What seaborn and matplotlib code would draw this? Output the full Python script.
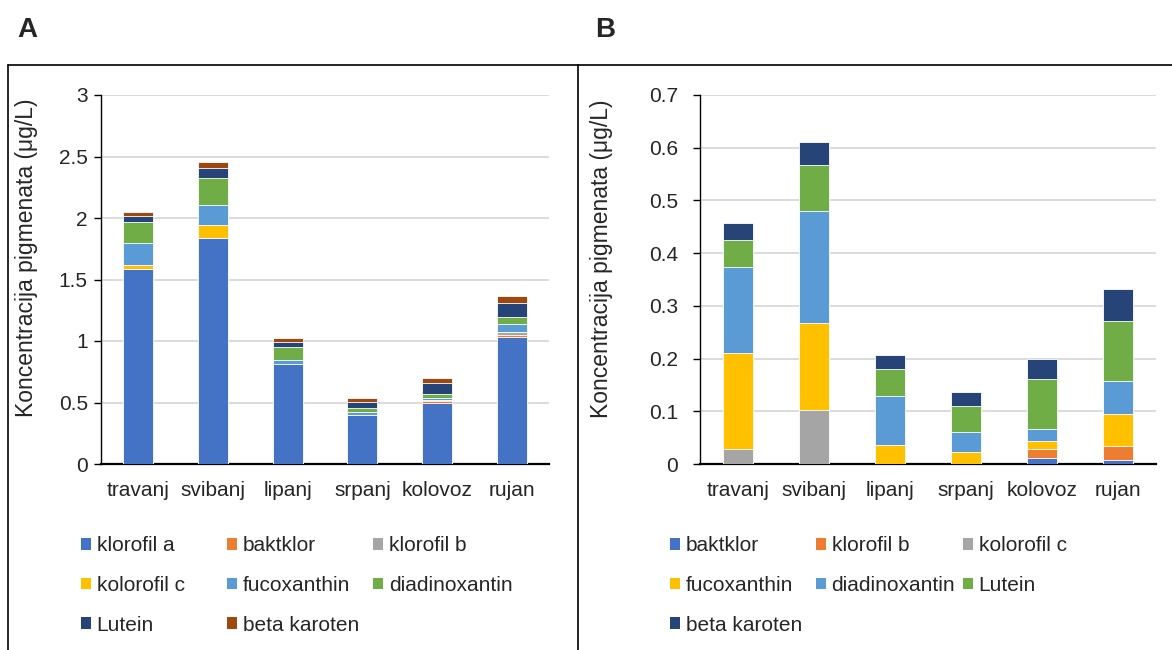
import numpy as np
import matplotlib
matplotlib.use("Agg")
import matplotlib.pyplot as plt
from matplotlib.patches import Patch
from matplotlib.lines import Line2D
import seaborn as sns

months = ['travanj', 'svibanj', 'lipanj', 'srpanj', 'kolovoz', 'rujan']

# Panel A
labels_A = ['klorofil a', 'baktklor', 'klorofil b', 'kolorofil c', 'fucoxanthin',
            'diadinoxantin', 'Lutein', 'beta karoten']
klorofil_a_A = [1.586, 1.841, 0.811, 0.395, 0.497, 1.032]
baktklor_A = [0.0, 0.0, 0.0, 0.0, 0.016, 0.014]
klorofil_b_A = [0.0, 0.0, 0.005, 0.0, 0.010, 0.024]
kolorofil_c_A = [0.030, 0.105, 0.0, 0.0, 0.0, 0.0]
fucoxanthin_A = [0.184, 0.162, 0.032, 0.024, 0.016, 0.065]
diadinoxantin_A = [0.165, 0.214, 0.100, 0.038, 0.027, 0.060]
lutein_A = [0.049, 0.084, 0.043, 0.046, 0.092, 0.113]
beta_karoten_A = [0.032, 0.046, 0.030, 0.030, 0.038, 0.060]
colors_A = ['#4472C4', '#ED7D31', '#A5A5A5', '#FFC000', '#5B9BD5', '#70AD47',
            '#264478', '#9E480E']

# Panel B
labels_B = ['baktklor', 'klorofil b', 'kolorofil c', 'fucoxanthin', 'diadinoxantin',
            'Lutein', 'beta karoten']
baktklor_B = [0.0, 0.0, 0.0, 0.0, 0.0114, 0.0076]
klorofil_b_B = [0.0, 0.0, 0.0, 0.0, 0.0170, 0.0260]
kolorofil_c_B = [0.0284, 0.1030, 0.0, 0.0, 0.0, 0.0]
fucoxanthin_B = [0.1830, 0.1636, 0.0366, 0.0234, 0.0146, 0.0619]
diadinoxantin_B = [0.1614, 0.2141, 0.0929, 0.0372, 0.0233, 0.0616]
lutein_B = [0.0530, 0.0859, 0.0512, 0.0494, 0.0942, 0.1146]
beta_karoten_B = [0.0310, 0.0434, 0.0265, 0.0270, 0.0391, 0.0594]
colors_B = ['#4472C4', '#ED7D31', '#A5A5A5', '#FFC000', '#5B9BD5', '#70AD47', '#264478']

series_A = [klorofil_a_A, baktklor_A, klorofil_b_A, kolorofil_c_A, fucoxanthin_A,
            diadinoxantin_A, lutein_A, beta_karoten_A]
series_B = [baktklor_B, klorofil_b_B, kolorofil_c_B, fucoxanthin_B, diadinoxantin_B,
            lutein_B, beta_karoten_B]

sns.set_theme(style="white")
plt.rcParams['font.family'] = ['Liberation Sans', 'DejaVu Sans']

W, H = 1172, 650
fig = plt.figure(figsize=(W / 100, H / 100), dpi=100)

FS = 15


def px_x(x):
    return x / W


def px_y(y):
    return 1 - y / H


def draw_panel(rect, series, colors, ymax, ystep, ytick_fmt, ypad):
    ax = fig.add_axes(rect)
    ax.set_axisbelow(True)
    cum = np.cumsum(np.array(series, dtype=float), axis=0)
    for i in reversed(range(len(series))):
        sns.barplot(x=months, y=cum[i], color=colors[i], saturation=1, width=0.4,
                    edgecolor='white', linewidth=0.6, ax=ax, zorder=3)
    ax.set_xlim(-0.5, 5.5)
    ax.set_ylim(0, ymax)
    yt = np.arange(0, ymax + ystep / 2, ystep)
    ax.set_yticks(yt)
    ax.set_yticklabels([ytick_fmt(v) for v in yt], fontsize=FS)
    ax.yaxis.grid(True, color='#D9D9D9', linewidth=1.3)
    ax.xaxis.grid(False)
    ax.set_xticks(range(len(months)))
    ax.set_xticklabels(months, fontsize=FS)
    ax.set_xticks(np.arange(-0.5, 6, 1), minor=True)
    ax.tick_params(axis='x', which='major', length=0, pad=12)
    ax.tick_params(axis='x', which='minor', length=5, width=1.2, color='black', direction='out')
    ax.tick_params(axis='y', length=5, width=1.0, color='black', direction='out', left=True, pad=ypad)
    for s in ['top', 'right']:
        ax.spines[s].set_visible(False)
    ax.spines['left'].set_color('black')
    ax.spines['left'].set_linewidth(1.0)
    ax.spines['bottom'].set_color('black')
    ax.spines['bottom'].set_linewidth(1.6)
    ax.set_xlabel('')
    ax.set_ylabel('Koncentracija pigmenata (μg/L)', fontsize=16.5)
    return ax


def fmt_A(v):
    return ('%g' % round(v, 2))


def fmt_B(v):
    return ('%.1f' % v) if v > 0 else '0'


axA = draw_panel([px_x(101), px_y(464), px_x(549) - px_x(101), px_y(95) - px_y(464)],
                 series_A, colors_A, 3, 0.5, fmt_A, 4.5)
axA.yaxis.set_label_coords(-0.14, 0.56)
axB = draw_panel([px_x(700), px_y(464), px_x(1156) - px_x(700), px_y(95) - px_y(464)],
                 series_B, colors_B, 0.7, 0.1, fmt_B, 11)
axB.yaxis.set_label_coords(-0.19, 0.555)


def add_legends(labels, colors, col_x, top_y):
    n = len(labels)
    ncol = 3
    for c in range(ncol):
        idx = list(range(c, n, ncol))
        handles = [Patch(facecolor=colors[i], edgecolor='none') for i in idx]
        fig.legend(handles, [labels[i] for i in idx], loc='upper left',
                   bbox_to_anchor=(px_x(col_x[c]), px_y(top_y)), frameon=False,
                   fontsize=FS, handlelength=0.5, handleheight=0.5, handletextpad=0.25,
                   labelspacing=1.0, borderpad=0, borderaxespad=0)


add_legends(labels_A, colors_A, [81, 227, 373], 536)
add_legends(labels_B, colors_B, [670, 816, 963], 536)

# panel frames
fig.add_artist(Line2D([px_x(8), 1], [px_y(65), px_y(65)], color='black', lw=1.2))
fig.add_artist(Line2D([px_x(8), px_x(8)], [0, px_y(65)], color='black', lw=1.2))
fig.add_artist(Line2D([px_x(578), px_x(578)], [0, px_y(65)], color='black', lw=1.2))

fig.text(px_x(17), px_y(30), 'A', fontsize=20, fontweight='bold', va='center', ha='left')
fig.text(px_x(595), px_y(30), 'B', fontsize=20, fontweight='bold', va='center', ha='left')

fig.savefig('out.png', dpi=100)
